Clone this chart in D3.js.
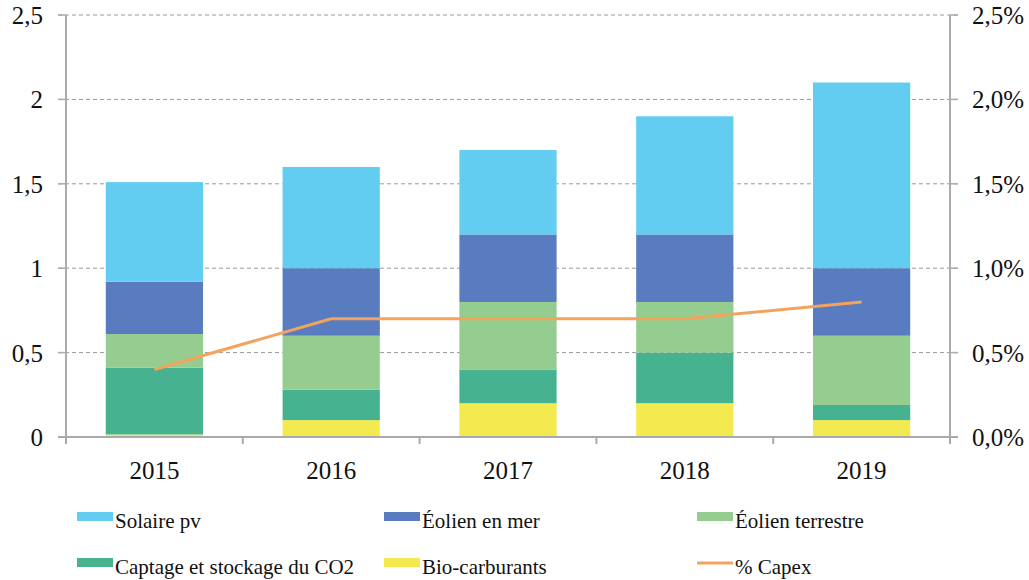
<!DOCTYPE html>
<html>
<head>
<meta charset="utf-8">
<script src="https://cdn.jsdelivr.net/npm/d3@7"></script>
<style>
  body { margin: 0; background: #fff; }
  svg text { font-family: "Times New Roman", "Liberation Serif", Times, serif; fill: #111; }
</style>
</head>
<body>
<div id="chart"></div>
<script>
// ---- data ----
const years = ["2015", "2016", "2017", "2018", "2019"];
const bioCarburants = [0.015, 0.10, 0.20, 0.20, 0.10];
const captageCO2    = [0.395, 0.18, 0.20, 0.30, 0.09];
const eolienTerre   = [0.20, 0.32, 0.40, 0.30, 0.41];
const eolienMer     = [0.31, 0.40, 0.40, 0.40, 0.40];
const solairePv     = [0.59, 0.60, 0.50, 0.70, 1.10];
const capexPct      = [0.4, 0.7, 0.7, 0.7, 0.8];
const leftTicks  = [0, 0.5, 1, 1.5, 2, 2.5];
const rightTicks = [0, 0.5, 1, 1.5, 2, 2.5];

// stacking order bottom -> top
const series = [
  { key: "bio",     label: "Bio-carburants",              values: bioCarburants, color: "#f2ea4e" },
  { key: "captage", label: "Captage et stockage du CO2",  values: captageCO2,    color: "#46b290" },
  { key: "terre",   label: "Éolien terrestre",            values: eolienTerre,   color: "#95cc8f" },
  { key: "mer",     label: "Éolien en mer",               values: eolienMer,     color: "#587cbf" },
  { key: "solaire", label: "Solaire pv",                  values: solairePv,     color: "#62cdf1" }
];
const capexColor = "#f4a35c";
const serif = "'Times New Roman', 'Liberation Serif', Times, serif";

const width = 1029, height = 580;
const margin = { top: 15, right: 79, bottom: 143, left: 66 };
const innerW = width - margin.left - margin.right;
const innerH = height - margin.top - margin.bottom;

const svg = d3.select("#chart").append("svg")
  .attr("width", width)
  .attr("height", height)
  .attr("font-family", serif);

const g = svg.append("g")
  .attr("transform", `translate(${margin.left},${margin.top})`);

const x = d3.scaleBand()
  .domain(years)
  .range([0, innerW])
  .paddingInner(0.45)
  .paddingOuter(0.225);

const y = d3.scaleLinear().domain([0, 2.5]).range([innerH, 0]);
const y2 = d3.scaleLinear().domain([0, 2.5]).range([innerH, 0]);

// gridlines (dashed)
g.append("g")
  .selectAll("line")
  .data(leftTicks.filter(d => d > 0))
  .enter()
  .append("line")
  .attr("x1", -8)
  .attr("x2", innerW + 8)
  .attr("y1", d => y(d))
  .attr("y2", d => y(d))
  .attr("stroke", "#9a9a9a")
  .attr("stroke-width", 1)
  .attr("stroke-dasharray", "4,3");

// stacked bars
const table = years.map((yr, i) => {
  const row = { year: yr };
  series.forEach(s => row[s.key] = s.values[i]);
  return row;
});
const stacked = d3.stack().keys(series.map(s => s.key))(table);

g.selectAll(".layer")
  .data(stacked)
  .enter()
  .append("g")
  .attr("class", "layer")
  .attr("fill", (d, i) => series[i].color)
  .selectAll("rect")
  .data(d => d)
  .enter()
  .append("rect")
  .attr("x", d => x(d.data.year))
  .attr("width", x.bandwidth())
  .attr("y", d => y(d[1]))
  .attr("height", d => y(d[0]) - y(d[1]));

// axes
const axisColor = "#aaaaaa";
g.append("line")
  .attr("x1", 0).attr("x2", 0)
  .attr("y1", 0).attr("y2", innerH + 7)
  .attr("stroke", axisColor).attr("stroke-width", 2);
g.append("line")
  .attr("x1", innerW).attr("x2", innerW)
  .attr("y1", 0).attr("y2", innerH + 7)
  .attr("stroke", axisColor).attr("stroke-width", 2);
g.append("line")
  .attr("x1", -8).attr("x2", innerW + 8)
  .attr("y1", innerH).attr("y2", innerH)
  .attr("stroke", axisColor).attr("stroke-width", 2);

// category boundary ticks
g.append("g")
  .selectAll("line")
  .data(years.slice(1))
  .enter()
  .append("line")
  .attr("x1", d => x(d) - x.step() * x.paddingInner() / 2)
  .attr("x2", d => x(d) - x.step() * x.paddingInner() / 2)
  .attr("y1", innerH)
  .attr("y2", innerH + 7)
  .attr("stroke", axisColor).attr("stroke-width", 2);

// left/right tick marks
g.append("g").selectAll("line").data(leftTicks).enter().append("line")
  .attr("x1", -8).attr("x2", 0)
  .attr("y1", d => y(d)).attr("y2", d => y(d))
  .attr("stroke", axisColor).attr("stroke-width", 1.5);
g.append("g").selectAll("line").data(rightTicks).enter().append("line")
  .attr("x1", innerW).attr("x2", innerW + 8)
  .attr("y1", d => y2(d)).attr("y2", d => y2(d))
  .attr("stroke", axisColor).attr("stroke-width", 1.5);

const fmtLeft = d => (d === 0 ? "0" : d3.format("")(d).replace(".", ","));
const fmtRight = d => d.toFixed(1).replace(".", ",") + "%";

g.append("g").selectAll("text").data(leftTicks).enter().append("text")
  .attr("x", -23)
  .attr("y", d => y(d) + 9)
  .attr("text-anchor", "end")
  .attr("font-family", serif)
  .attr("font-size", 25)
  .text(fmtLeft);

g.append("g").selectAll("text").data(rightTicks).enter().append("text")
  .attr("x", innerW + 22)
  .attr("y", d => y2(d) + 9)
  .attr("text-anchor", "start")
  .attr("font-family", serif)
  .attr("font-size", 25)
  .text(fmtRight);

g.append("g").selectAll("text").data(years).enter().append("text")
  .attr("x", d => x(d) + x.bandwidth() / 2)
  .attr("y", innerH + 42)
  .attr("text-anchor", "middle")
  .attr("font-family", serif)
  .attr("font-size", 25)
  .text(d => d);

// capex line
const line = d3.line()
  .x((d, i) => x(years[i]) + x.bandwidth() / 2)
  .y(d => y2(d));

g.append("path")
  .datum(capexPct)
  .attr("fill", "none")
  .attr("stroke", capexColor)
  .attr("stroke-width", 3)
  .attr("d", line);

// legend
const legendItems = [
  { label: "Solaire pv", color: series[4].color, type: "rect" },
  { label: "Éolien en mer", color: series[3].color, type: "rect" },
  { label: "Éolien terrestre", color: series[2].color, type: "rect" },
  { label: "Captage et stockage du CO2", color: series[1].color, type: "rect" },
  { label: "Bio-carburants", color: series[0].color, type: "rect" },
  { label: "% Capex", color: capexColor, type: "line" }
];
const colX = [77, 384, 697];
const rowY = [512, 558];

const legend = svg.append("g");
const li = legend.selectAll("g")
  .data(legendItems)
  .enter()
  .append("g")
  .attr("transform", (d, i) => `translate(${colX[i % 3]},${rowY[Math.floor(i / 3)]})`);

li.filter(d => d.type === "rect").append("rect")
  .attr("x", 0).attr("y", 0)
  .attr("width", 36).attr("height", 9)
  .attr("fill", d => d.color);

li.filter(d => d.type === "line").append("line")
  .attr("x1", 0).attr("x2", 36)
  .attr("y1", 5).attr("y2", 5)
  .attr("stroke", d => d.color)
  .attr("stroke-width", 3);

li.append("text")
  .attr("x", 38)
  .attr("y", 16)
  .attr("font-family", serif)
  .attr("font-size", 21)
  .text(d => d.label);
</script>
</body>
</html>
